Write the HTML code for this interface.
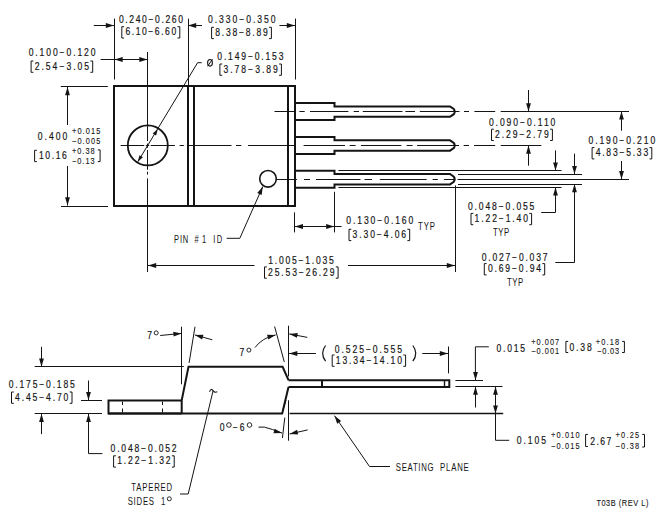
<!DOCTYPE html>
<html><head><meta charset="utf-8"><style>
html,body{margin:0;padding:0;background:#fff;width:663px;height:523px;overflow:hidden}
svg{display:block}
text{font-family:"Liberation Sans",sans-serif;fill:#141414;stroke:#141414;stroke-width:0.18px}
</style></head><body>
<svg width="663" height="523" viewBox="0 0 663 523">
<g stroke="#141414" stroke-linecap="butt" fill="none">
<path d="M114,86 H295 V206 H114 Z" stroke-width="2.0" fill="none" />
<line x1="188" y1="86" x2="188" y2="206" stroke-width="2.0" />
<line x1="194" y1="86" x2="194" y2="206" stroke-width="2.0" />
<line x1="288" y1="86" x2="288" y2="206" stroke-width="2.0" />
<line x1="114.5" y1="18.6" x2="114.5" y2="79.5" stroke-width="1.0" />
<line x1="188.5" y1="18.6" x2="188.5" y2="86" stroke-width="1.0" />
<line x1="295.5" y1="18.6" x2="295.5" y2="79.5" stroke-width="1.0" />
<line x1="93.8" y1="25.5" x2="114" y2="25.5" stroke-width="1.0" />
<path d="M114.00,25.50 L105.80,23.10 L105.80,27.90 Z" fill="#141414" stroke="none"/>
<line x1="202" y1="25.5" x2="188" y2="25.5" stroke-width="1.0" />
<path d="M188.00,25.50 L196.20,27.90 L196.20,23.10 Z" fill="#141414" stroke="none"/>
<line x1="279.4" y1="25.5" x2="295" y2="25.5" stroke-width="1.0" />
<path d="M295.00,25.50 L286.80,23.10 L286.80,27.90 Z" fill="#141414" stroke="none"/>
<text transform="scale(0.86,1)" x="138.37" y="23.0" font-size="10.0" textLength="74.42" lengthAdjust="spacing">0.240−0.260</text>
<path d="M124.10,26.70 H121.80 V38.00 H124.10" stroke-width="1.0" fill="none" />
<path d="M177.50,26.70 H179.80 V38.00 H177.50" stroke-width="1.0" fill="none" />
<text transform="scale(0.86,1)" x="145.81" y="35.4" font-size="10.0" textLength="59.07" lengthAdjust="spacing">6.10−6.60</text>
<text transform="scale(0.86,1)" x="241.86" y="23.0" font-size="10.0" textLength="78.49" lengthAdjust="spacing">0.330−0.350</text>
<path d="M213.90,27.30 H211.60 V38.60 H213.90" stroke-width="1.0" fill="none" />
<path d="M269.10,27.30 H271.40 V38.60 H269.10" stroke-width="1.0" fill="none" />
<text transform="scale(0.86,1)" x="250.23" y="36.0" font-size="10.0" textLength="61.16" lengthAdjust="spacing">8.38−8.89</text>
<line x1="100.6" y1="59.5" x2="147.5" y2="59.5" stroke-width="1.0" />
<path d="M114.50,59.50 L122.70,61.90 L122.70,57.10 Z" fill="#141414" stroke="none"/>
<path d="M147.50,59.50 L139.30,57.10 L139.30,61.90 Z" fill="#141414" stroke="none"/>
<text transform="scale(0.86,1)" x="33.37" y="56.300000000000004" font-size="10.0" textLength="77.67" lengthAdjust="spacing">0.100−0.120</text>
<path d="M33.40,61.00 H31.10 V72.30 H33.40" stroke-width="1.0" fill="none" />
<path d="M90.40,61.00 H92.70 V72.30 H90.40" stroke-width="1.0" fill="none" />
<text transform="scale(0.86,1)" x="40.35" y="69.69999999999999" font-size="10.0" textLength="63.26" lengthAdjust="spacing">2.54−3.05</text>
<line x1="147.5" y1="52" x2="147.5" y2="141" stroke-width="1.0" />
<line x1="147.5" y1="143.6" x2="147.5" y2="147.8" stroke-width="1.0" />
<line x1="147.5" y1="150" x2="147.5" y2="169.8" stroke-width="1.0" />
<line x1="147.5" y1="171.7" x2="147.5" y2="174.6" stroke-width="1.0" />
<line x1="147.5" y1="178.4" x2="147.5" y2="272" stroke-width="1.0" />
<line x1="60.8" y1="86.5" x2="107.8" y2="86.5" stroke-width="1.0" />
<line x1="61" y1="206.5" x2="108" y2="206.5" stroke-width="1.0" />
<line x1="67.5" y1="125" x2="67.5" y2="87" stroke-width="1.0" />
<path d="M67.50,87.00 L65.10,95.20 L69.90,95.20 Z" fill="#141414" stroke="none"/>
<line x1="67.5" y1="166" x2="67.5" y2="205.5" stroke-width="1.0" />
<path d="M67.50,205.50 L69.90,197.30 L65.10,197.30 Z" fill="#141414" stroke="none"/>
<text transform="scale(0.86,1)" x="43.95" y="140.2" font-size="10.0" textLength="34.30" lengthAdjust="spacing">0.400</text>
<text transform="scale(0.86,1)" x="83.72" y="133.6" font-size="8.6" textLength="32.91" lengthAdjust="spacing" style="stroke-width:0.1px">+0.015</text>
<text transform="scale(0.86,1)" x="83.72" y="144.2" font-size="8.6" textLength="32.91" lengthAdjust="spacing" style="stroke-width:0.1px">−0.005</text>
<path d="M36.90,150.30 H34.60 V161.60 H36.90" stroke-width="1.0" fill="none" />
<text transform="scale(0.86,1)" x="45.35" y="159.29999999999998" font-size="10.0" textLength="32.33" lengthAdjust="spacing">10.16</text>
<text transform="scale(0.86,1)" x="83.72" y="154.1" font-size="8.6" textLength="26.28" lengthAdjust="spacing" style="stroke-width:0.1px">+0.38</text>
<text transform="scale(0.86,1)" x="83.72" y="164.1" font-size="8.6" textLength="26.28" lengthAdjust="spacing" style="stroke-width:0.1px">−0.13</text>
<path d="M97.80,149.90 H100.10 V161.60 H97.80" stroke-width="1.0" fill="none" />
<circle cx="147.8" cy="145.4" r="20" stroke-width="1.8" fill="none"/>
<line x1="120.6" y1="145.5" x2="144.2" y2="145.5" stroke-width="1.0" />
<line x1="145.8" y1="145.5" x2="149.2" y2="145.5" stroke-width="1.0" />
<line x1="150.7" y1="145.5" x2="174.9" y2="145.5" stroke-width="1.0" />
<line x1="179.6" y1="145.5" x2="183.9" y2="145.5" stroke-width="1.0" />
<line x1="187.5" y1="145.5" x2="231.5" y2="145.5" stroke-width="1.0" />
<line x1="236" y1="145.5" x2="241.3" y2="145.5" stroke-width="1.0" />
<line x1="248" y1="145.5" x2="296" y2="145.5" stroke-width="1.0" />
<line x1="303.6" y1="145.5" x2="345" y2="145.5" stroke-width="1.0" />
<line x1="349.6" y1="145.5" x2="355.6" y2="145.5" stroke-width="1.0" />
<line x1="360.9" y1="145.5" x2="401.3" y2="145.5" stroke-width="1.0" />
<line x1="406.6" y1="145.5" x2="412.6" y2="145.5" stroke-width="1.0" />
<line x1="417.1" y1="145.5" x2="459" y2="145.5" stroke-width="1.0" />
<line x1="463.6" y1="145.5" x2="469" y2="145.5" stroke-width="1.0" />
<line x1="474" y1="145.5" x2="495.2" y2="145.5" stroke-width="1.0" />
<line x1="500.7" y1="145.5" x2="541.3" y2="145.5" stroke-width="1.0" />
<path d="M201.7,62.7 H197.6 L137.81,161.80" stroke-width="1.0" fill="none" />
<path d="M157.79,129.00 L152.70,133.51 L156.11,135.59 Z" fill="#141414" stroke="none"/>
<path d="M137.81,161.80 L142.90,157.29 L139.49,155.21 Z" fill="#141414" stroke="none"/>
<ellipse cx="210" cy="62.8" rx="2.4" ry="3.3" stroke-width="1.1" fill="none"/>
<line x1="207.6" y1="66.3" x2="212.5" y2="59.3" stroke-width="1.0" />
<text transform="scale(0.86,1)" x="252.67" y="60.300000000000004" font-size="10.0" textLength="76.98" lengthAdjust="spacing">0.149−0.153</text>
<path d="M222.20,64.00 H219.90 V75.30 H222.20" stroke-width="1.0" fill="none" />
<path d="M279.10,64.00 H281.40 V75.30 H279.10" stroke-width="1.0" fill="none" />
<text transform="scale(0.86,1)" x="259.88" y="72.69999999999999" font-size="10.0" textLength="63.14" lengthAdjust="spacing">3.78−3.89</text>
<path d="M295,103.1 H334.5 V106.39999999999999 H450 L453.8,109.0 Q455.6,111.6 453.8,114.19999999999999 L450,116.8 H334.5 V120.1 H295" stroke-width="2.0" fill="none" />
<path d="M295,137.0 H334.5 V140.3 H450 L453.8,142.9 Q455.6,145.5 453.8,148.1 L450,150.7 H334.5 V154.0 H295" stroke-width="2.0" fill="none" />
<path d="M295,170.7 H334.5 V174.0 H450 L453.8,176.6 Q455.6,179.2 453.8,181.79999999999998 L450,184.39999999999998 H334.5 V187.7 H295" stroke-width="2.0" fill="none" />
<line x1="274.5" y1="111.5" x2="295" y2="111.5" stroke-width="1.0" />
<line x1="299.4" y1="111.5" x2="304.7" y2="111.5" stroke-width="1.0" />
<line x1="310" y1="111.5" x2="348.4" y2="111.5" stroke-width="1.0" />
<line x1="353.7" y1="111.5" x2="359" y2="111.5" stroke-width="1.0" />
<line x1="362.8" y1="111.5" x2="402.4" y2="111.5" stroke-width="1.0" />
<line x1="405.4" y1="111.5" x2="415" y2="111.5" stroke-width="1.0" />
<line x1="419.8" y1="111.5" x2="459.5" y2="111.5" stroke-width="1.0" />
<line x1="464" y1="111.5" x2="469" y2="111.5" stroke-width="1.0" />
<line x1="474.4" y1="111.5" x2="495.2" y2="111.5" stroke-width="1.0" />
<line x1="500.7" y1="111.5" x2="629" y2="111.5" stroke-width="1.0" />
<line x1="276.5" y1="179.5" x2="297.1" y2="179.5" stroke-width="1.0" />
<line x1="304" y1="179.5" x2="310" y2="179.5" stroke-width="1.0" />
<line x1="316" y1="179.5" x2="360.5" y2="179.5" stroke-width="1.0" />
<line x1="364.5" y1="179.5" x2="372" y2="179.5" stroke-width="1.0" />
<line x1="379.8" y1="179.5" x2="426.6" y2="179.5" stroke-width="1.0" />
<line x1="432.6" y1="179.5" x2="437.9" y2="179.5" stroke-width="1.0" />
<line x1="443.9" y1="179.5" x2="455" y2="179.5" stroke-width="1.0" />
<line x1="457.5" y1="179.5" x2="629" y2="179.5" stroke-width="1.0" />
<circle cx="268" cy="178.8" r="8.3" stroke-width="1.6" fill="none"/>
<path d="M262.8,186.5 L239.8,238.3 H226.7" stroke-width="1.0" fill="none" />
<path d="M262.80,186.50 L257.28,193.02 L261.67,194.97 Z" fill="#141414" stroke="none"/>
<text transform="scale(0.74,1)" x="235.14" y="243.0" font-size="10.2" textLength="19.32" lengthAdjust="spacing" style="stroke-width:0.02px">PIN</text>
<text transform="scale(0.74,1)" x="262.84" y="243.0" font-size="10.2" textLength="15.95" lengthAdjust="spacing" style="stroke-width:0.02px">#1</text>
<text transform="scale(0.74,1)" x="288.11" y="243.0" font-size="10.2" textLength="12.03" lengthAdjust="spacing" style="stroke-width:0.02px">ID</text>
<line x1="294.5" y1="212.3" x2="294.5" y2="232.4" stroke-width="1.0" />
<line x1="334.5" y1="191.8" x2="334.5" y2="232.4" stroke-width="1.0" />
<line x1="294.8" y1="226.5" x2="341.6" y2="226.5" stroke-width="1.0" />
<path d="M294.80,226.50 L303.00,228.90 L303.00,224.10 Z" fill="#141414" stroke="none"/>
<path d="M334.30,226.50 L326.10,224.10 L326.10,228.90 Z" fill="#141414" stroke="none"/>
<text transform="scale(0.86,1)" x="402.67" y="224.2" font-size="10.0" textLength="77.91" lengthAdjust="spacing">0.130−0.160</text>
<text transform="scale(0.74,1)" x="565.00" y="230.5" font-size="10.5" textLength="22.84" lengthAdjust="spacing" style="stroke-width:0.02px">TYP</text>
<path d="M351.30,229.30 H349.00 V240.60 H351.30" stroke-width="1.0" fill="none" />
<path d="M407.40,229.30 H409.70 V240.60 H407.40" stroke-width="1.0" fill="none" />
<text transform="scale(0.86,1)" x="410.00" y="238.0" font-size="10.0" textLength="62.21" lengthAdjust="spacing">3.30−4.06</text>
<line x1="254.5" y1="265.5" x2="148" y2="265.5" stroke-width="1.0" />
<path d="M148.00,265.50 L156.20,267.90 L156.20,263.10 Z" fill="#141414" stroke="none"/>
<line x1="348" y1="265.5" x2="455" y2="265.5" stroke-width="1.0" />
<path d="M455.00,265.50 L446.80,263.10 L446.80,267.90 Z" fill="#141414" stroke="none"/>
<line x1="455.5" y1="185.4" x2="455.5" y2="272" stroke-width="1.0" />
<text transform="scale(0.86,1)" x="311.98" y="263.8" font-size="10.0" textLength="76.16" lengthAdjust="spacing">1.005−1.035</text>
<path d="M266.80,266.90 H264.50 V278.20 H266.80" stroke-width="1.0" fill="none" />
<path d="M335.80,266.90 H338.10 V278.20 H335.80" stroke-width="1.0" fill="none" />
<text transform="scale(0.86,1)" x="311.74" y="275.6" font-size="10.0" textLength="77.21" lengthAdjust="spacing">25.53−26.29</text>
<line x1="528.5" y1="90" x2="528.5" y2="111.4" stroke-width="1.0" />
<path d="M528.50,111.40 L530.90,103.20 L526.10,103.20 Z" fill="#141414" stroke="none"/>
<line x1="528.5" y1="165.7" x2="528.5" y2="145.5" stroke-width="1.0" />
<path d="M528.50,145.50 L526.10,153.70 L530.90,153.70 Z" fill="#141414" stroke="none"/>
<text transform="scale(0.86,1)" x="568.49" y="125.8" font-size="10.0" textLength="77.33" lengthAdjust="spacing">0.090−0.110</text>
<path d="M493.80,129.20 H491.50 V140.50 H493.80" stroke-width="1.0" fill="none" />
<path d="M550.10,129.20 H552.40 V140.50 H550.10" stroke-width="1.0" fill="none" />
<text transform="scale(0.86,1)" x="575.70" y="137.89999999999998" font-size="10.0" textLength="62.44" lengthAdjust="spacing">2.29−2.79</text>
<line x1="621.5" y1="130.7" x2="621.5" y2="111.4" stroke-width="1.0" />
<path d="M621.50,111.40 L619.10,119.60 L623.90,119.60 Z" fill="#141414" stroke="none"/>
<line x1="621.5" y1="161" x2="621.5" y2="179.2" stroke-width="1.0" />
<path d="M621.50,179.20 L623.90,171.00 L619.10,171.00 Z" fill="#141414" stroke="none"/>
<text transform="scale(0.86,1)" x="684.30" y="143.6" font-size="10.0" textLength="77.56" lengthAdjust="spacing">0.190−0.210</text>
<path d="M594.40,147.60 H592.10 V158.90 H594.40" stroke-width="1.0" fill="none" />
<path d="M649.50,147.60 H651.80 V158.90 H649.50" stroke-width="1.0" fill="none" />
<text transform="scale(0.86,1)" x="692.67" y="156.29999999999998" font-size="10.0" textLength="61.05" lengthAdjust="spacing">4.83−5.33</text>
<line x1="338.4" y1="170.5" x2="561.5" y2="170.5" stroke-width="1.0" />
<line x1="338.4" y1="187.5" x2="561.5" y2="187.5" stroke-width="1.0" />
<line x1="458" y1="174.5" x2="582" y2="174.5" stroke-width="1.0" />
<line x1="458" y1="184.5" x2="582" y2="184.5" stroke-width="1.0" />
<line x1="555.5" y1="150.4" x2="555.5" y2="170.6" stroke-width="1.0" />
<path d="M555.50,170.60 L557.90,162.40 L553.10,162.40 Z" fill="#141414" stroke="none"/>
<path d="M541.2,212.5 H555.5 V195" stroke-width="1.0" fill="none" />
<line x1="555.5" y1="196" x2="555.5" y2="187.3" stroke-width="1.0" />
<path d="M555.50,187.30 L553.10,195.50 L557.90,195.50 Z" fill="#141414" stroke="none"/>
<line x1="574.5" y1="153.6" x2="574.5" y2="174.1" stroke-width="1.0" />
<path d="M574.50,174.10 L576.90,165.90 L572.10,165.90 Z" fill="#141414" stroke="none"/>
<path d="M555.3,262.5 H574.5 V192" stroke-width="1.0" fill="none" />
<line x1="574.5" y1="193" x2="574.5" y2="184" stroke-width="1.0" />
<path d="M574.50,184.00 L572.10,192.20 L576.90,192.20 Z" fill="#141414" stroke="none"/>
<text transform="scale(0.86,1)" x="544.19" y="210.1" font-size="10.0" textLength="77.21" lengthAdjust="spacing">0.048−0.055</text>
<path d="M473.30,213.40 H471.00 V224.70 H473.30" stroke-width="1.0" fill="none" />
<path d="M529.30,213.40 H531.60 V224.70 H529.30" stroke-width="1.0" fill="none" />
<text transform="scale(0.86,1)" x="551.86" y="222.1" font-size="10.0" textLength="62.09" lengthAdjust="spacing">1.22−1.40</text>
<text transform="scale(0.74,1)" x="666.22" y="236.3" font-size="10.5" textLength="22.03" lengthAdjust="spacing" style="stroke-width:0.02px">TYP</text>
<text transform="scale(0.86,1)" x="560.12" y="260.90000000000003" font-size="10.0" textLength="76.51" lengthAdjust="spacing">0.027−0.037</text>
<path d="M486.60,263.60 H484.30 V274.90 H486.60" stroke-width="1.0" fill="none" />
<path d="M542.40,263.60 H544.70 V274.90 H542.40" stroke-width="1.0" fill="none" />
<text transform="scale(0.86,1)" x="567.33" y="272.30000000000007" font-size="10.0" textLength="61.86" lengthAdjust="spacing">0.69−0.94</text>
<text transform="scale(0.74,1)" x="685.14" y="285.6" font-size="10.5" textLength="22.03" lengthAdjust="spacing" style="stroke-width:0.02px">TYP</text>
<path d="M181.7,400.4 H108.5 V413.5 H181.7" stroke-width="2.0" fill="none" />
<line x1="122.5" y1="401.5" x2="122.5" y2="405" stroke-width="1.0" />
<line x1="122.5" y1="408.5" x2="122.5" y2="412.5" stroke-width="1.0" />
<line x1="162.5" y1="401.5" x2="162.5" y2="405" stroke-width="1.0" />
<line x1="162.5" y1="408.5" x2="162.5" y2="412.5" stroke-width="1.0" />
<path d="M181.7,413.5 V400.4 L188.5,366.8 H282.6 L288.5,380.2 M288.5,386.9 L282.2,413.5 H108.5" stroke-width="2.0" fill="none" />
<path d="M288.5,380.2 H449.3 V386.9 H288.5" stroke-width="2.0" fill="none" />
<line x1="322" y1="380.2" x2="322" y2="386.9" stroke-width="2.0" />
<line x1="444.5" y1="380.2" x2="444.5" y2="386.9" stroke-width="1.4" />
<line x1="289.6" y1="413.5" x2="503.2" y2="413.5" stroke-width="1.4" />
<line x1="34.7" y1="366.5" x2="183.8" y2="366.5" stroke-width="1.0" />
<line x1="34.7" y1="413.5" x2="102" y2="413.5" stroke-width="1.0" />
<line x1="81" y1="400.5" x2="102" y2="400.5" stroke-width="1.0" />
<line x1="41.5" y1="346.8" x2="41.5" y2="366.8" stroke-width="1.0" />
<path d="M41.50,366.80 L43.90,358.60 L39.10,358.60 Z" fill="#141414" stroke="none"/>
<line x1="41.5" y1="434.1" x2="41.5" y2="413.7" stroke-width="1.0" />
<path d="M41.50,413.70 L39.10,421.90 L43.90,421.90 Z" fill="#141414" stroke="none"/>
<line x1="88.5" y1="380.5" x2="88.5" y2="400.3" stroke-width="1.0" />
<path d="M88.50,400.30 L90.90,392.10 L86.10,392.10 Z" fill="#141414" stroke="none"/>
<path d="M102.4,453.6 H88.5 V420" stroke-width="1.0" fill="none" />
<line x1="88.5" y1="422" x2="88.5" y2="413.7" stroke-width="1.0" />
<path d="M88.50,413.70 L86.10,421.90 L90.90,421.90 Z" fill="#141414" stroke="none"/>
<text transform="scale(0.86,1)" x="10.23" y="388.40000000000003" font-size="10.0" textLength="76.74" lengthAdjust="spacing">0.175−0.185</text>
<path d="M13.80,392.00 H11.50 V403.30 H13.80" stroke-width="1.0" fill="none" />
<path d="M69.70,392.00 H72.00 V403.30 H69.70" stroke-width="1.0" fill="none" />
<text transform="scale(0.86,1)" x="17.56" y="400.70000000000005" font-size="10.0" textLength="61.98" lengthAdjust="spacing">4.45−4.70</text>
<text transform="scale(0.86,1)" x="128.60" y="451.6" font-size="10.0" textLength="76.74" lengthAdjust="spacing">0.048−0.052</text>
<path d="M115.90,455.80 H113.60 V467.10 H115.90" stroke-width="1.0" fill="none" />
<path d="M171.90,455.80 H174.20 V467.10 H171.90" stroke-width="1.0" fill="none" />
<text transform="scale(0.86,1)" x="136.28" y="464.50000000000006" font-size="10.0" textLength="62.09" lengthAdjust="spacing">1.22−1.32</text>
<text transform="scale(0.74,1)" x="177.43" y="491.0" font-size="10.5" textLength="55.14" lengthAdjust="spacing" style="stroke-width:0.02px">TAPERED</text>
<text transform="scale(0.74,1)" x="172.57" y="505.0" font-size="10.5" textLength="35.54" lengthAdjust="spacing" style="stroke-width:0.02px">SIDES</text>
<text transform="scale(0.74,1)" x="217.57" y="505.0" font-size="10.5" textLength="4.86" lengthAdjust="spacing" style="stroke-width:0.02px">1</text>
<circle cx="169.3" cy="498.8" r="2.0" stroke-width="0.9" fill="none"/>
<line x1="181.5" y1="326.7" x2="181.5" y2="384.3" stroke-width="1.0" />
<line x1="189.1" y1="362.9" x2="195" y2="326.7" stroke-width="1.0" />
<line x1="160.2" y1="335.5" x2="181.6" y2="333.4" stroke-width="1.0" />
<path d="M181.60,333.40 L173.20,331.81 L173.67,336.59 Z" fill="#141414" stroke="none"/>
<line x1="212.3" y1="339.8" x2="194.9" y2="334.9" stroke-width="1.0" />
<path d="M194.90,334.90 L202.14,339.43 L203.44,334.81 Z" fill="#141414" stroke="none"/>
<text transform="scale(0.86,1)" x="171.16" y="338.90000000000003" font-size="10.0" textLength="6.05" lengthAdjust="spacing">7</text>
<circle cx="156.2" cy="332.9" r="2.0" stroke-width="0.9" fill="none"/>
<line x1="274.6" y1="326.5" x2="284.3" y2="362" stroke-width="1.0" />
<line x1="288.5" y1="325.7" x2="288.5" y2="376.4" stroke-width="1.0" />
<line x1="288.5" y1="400.3" x2="288.5" y2="440.7" stroke-width="1.0" />
<path d="M255,347.5 Q262,338 275.6,334.9" stroke-width="1.0" fill="none" />
<path d="M275.60,334.90 L267.06,334.77 L268.34,339.40 Z" fill="#141414" stroke="none"/>
<line x1="307.3" y1="337.4" x2="289.3" y2="333.9" stroke-width="1.0" />
<path d="M289.30,333.90 L296.89,337.82 L297.81,333.11 Z" fill="#141414" stroke="none"/>
<text transform="scale(0.86,1)" x="278.49" y="356.20000000000005" font-size="10.0" textLength="6.28" lengthAdjust="spacing">7</text>
<circle cx="248.9" cy="350.1" r="2.0" stroke-width="0.9" fill="none"/>
<line x1="315.9" y1="353.5" x2="289.1" y2="353.5" stroke-width="1.0" />
<path d="M289.10,353.50 L297.30,355.90 L297.30,351.10 Z" fill="#141414" stroke="none"/>
<line x1="422.3" y1="353.5" x2="448" y2="353.5" stroke-width="1.0" />
<path d="M448.00,353.50 L439.80,351.10 L439.80,355.90 Z" fill="#141414" stroke="none"/>
<line x1="448.5" y1="346.5" x2="448.5" y2="373.4" stroke-width="1.0" />
<path d="M325.6,345.5 Q319.6,353.3 325.6,361.2" stroke-width="1.2" fill="none" />
<path d="M412.8,345.5 Q418.8,353.3 412.8,361.2" stroke-width="1.2" fill="none" />
<text transform="scale(0.86,1)" x="389.30" y="353.0" font-size="10.0" textLength="78.14" lengthAdjust="spacing">0.525−0.555</text>
<path d="M334.50,355.00 H332.20 V366.30 H334.50" stroke-width="1.0" fill="none" />
<path d="M403.30,355.00 H405.60 V366.30 H403.30" stroke-width="1.0" fill="none" />
<text transform="scale(0.86,1)" x="390.47" y="363.70000000000005" font-size="10.0" textLength="76.98" lengthAdjust="spacing">13.34−14.10</text>
<line x1="455.4" y1="380.5" x2="483" y2="380.5" stroke-width="1.0" />
<line x1="455.4" y1="386.5" x2="502.5" y2="386.5" stroke-width="1.0" />
<line x1="455.4" y1="413.5" x2="502.5" y2="413.5" stroke-width="1.0" />
<path d="M488.8,346.8 H475.4 V372" stroke-width="1.0" fill="none" />
<line x1="475.5" y1="372" x2="475.5" y2="380.2" stroke-width="1.0" />
<path d="M475.50,380.20 L477.90,372.00 L473.10,372.00 Z" fill="#141414" stroke="none"/>
<line x1="475.5" y1="407.5" x2="475.5" y2="386.6" stroke-width="1.0" />
<path d="M475.50,386.60 L473.10,394.80 L477.90,394.80 Z" fill="#141414" stroke="none"/>
<line x1="495.5" y1="386.6" x2="495.5" y2="413.6" stroke-width="1.0" />
<path d="M495.50,386.60 L493.10,394.80 L497.90,394.80 Z" fill="#141414" stroke="none"/>
<path d="M495.50,413.60 L497.90,405.40 L493.10,405.40 Z" fill="#141414" stroke="none"/>
<path d="M495.5,413.6 V440.3 H509.2" stroke-width="1.0" fill="none" />
<text transform="scale(0.86,1)" x="577.33" y="351.70000000000005" font-size="10.0" textLength="33.14" lengthAdjust="spacing">0.015</text>
<text transform="scale(0.86,1)" x="617.67" y="345.20000000000005" font-size="8.6" textLength="32.56" lengthAdjust="spacing" style="stroke-width:0.1px">+0.007</text>
<text transform="scale(0.86,1)" x="617.67" y="354.3" font-size="8.6" textLength="32.56" lengthAdjust="spacing" style="stroke-width:0.1px">−0.001</text>
<path d="M568.20,341.40 H565.90 V352.50 H568.20" stroke-width="1.0" fill="none" />
<text transform="scale(0.86,1)" x="662.21" y="350.6" font-size="10.0" textLength="25.81" lengthAdjust="spacing">0.38</text>
<text transform="scale(0.86,1)" x="692.67" y="345.20000000000005" font-size="8.6" textLength="27.33" lengthAdjust="spacing" style="stroke-width:0.1px">+0.18</text>
<text transform="scale(0.86,1)" x="694.19" y="354.3" font-size="8.6" textLength="25.81" lengthAdjust="spacing" style="stroke-width:0.1px">−0.03</text>
<path d="M622.10,341.40 H624.40 V352.50 H622.10" stroke-width="1.0" fill="none" />
<text transform="scale(0.86,1)" x="600.81" y="444.40000000000003" font-size="10.0" textLength="34.07" lengthAdjust="spacing">0.105</text>
<text transform="scale(0.86,1)" x="640.70" y="438.3" font-size="8.6" textLength="33.26" lengthAdjust="spacing" style="stroke-width:0.1px">+0.010</text>
<text transform="scale(0.86,1)" x="640.70" y="448.70000000000005" font-size="8.6" textLength="33.26" lengthAdjust="spacing" style="stroke-width:0.1px">−0.015</text>
<path d="M587.90,434.40 H585.60 V446.50 H587.90" stroke-width="1.0" fill="none" />
<text transform="scale(0.86,1)" x="686.28" y="444.8" font-size="10.0" textLength="24.65" lengthAdjust="spacing">2.67</text>
<text transform="scale(0.86,1)" x="715.81" y="438.3" font-size="8.6" textLength="27.33" lengthAdjust="spacing" style="stroke-width:0.1px">+0.25</text>
<text transform="scale(0.86,1)" x="715.81" y="448.70000000000005" font-size="8.6" textLength="27.33" lengthAdjust="spacing" style="stroke-width:0.1px">−0.38</text>
<path d="M642.20,434.40 H644.50 V447.00 H642.20" stroke-width="1.0" fill="none" />
<line x1="282" y1="413.2" x2="286" y2="400" stroke-width="1.0" />
<line x1="284.8" y1="417.6" x2="282.4" y2="438" stroke-width="1.0" />
<path d="M258.5,427.1 H264.3 Q272,429 282,433.1" stroke-width="1.0" fill="none" />
<path d="M282.00,433.10 L274.68,428.70 L273.46,433.34 Z" fill="#141414" stroke="none"/>
<line x1="307.7" y1="429.9" x2="289.6" y2="434" stroke-width="1.0" />
<path d="M289.60,434.00 L298.13,434.53 L297.07,429.85 Z" fill="#141414" stroke="none"/>
<text transform="scale(0.86,1)" x="255.58" y="431.5" font-size="10.0" textLength="5.58" lengthAdjust="spacing">0</text>
<circle cx="228.9" cy="425" r="2.3" stroke-width="0.9" fill="none"/>
<text transform="scale(0.86,1)" x="270.70" y="431.5" font-size="10.0" textLength="6.16" lengthAdjust="spacing">−</text>
<text transform="scale(0.86,1)" x="278.84" y="431.5" font-size="10.0" textLength="5.58" lengthAdjust="spacing">6</text>
<circle cx="249.5" cy="425" r="2.3" stroke-width="0.9" fill="none"/>
<path d="M390,466.5 H369.5 L334.5,415.7" stroke-width="1.0" fill="none" />
<path d="M334.50,415.70 L337.18,423.81 L341.13,421.09 Z" fill="#141414" stroke="none"/>
<text transform="scale(0.74,1)" x="534.86" y="471.1" font-size="10.5" textLength="51.08" lengthAdjust="spacing" style="stroke-width:0.02px">SEATING</text>
<text transform="scale(0.74,1)" x="594.59" y="471.1" font-size="10.5" textLength="38.92" lengthAdjust="spacing" style="stroke-width:0.02px">PLANE</text>
<path d="M180,494 H188.2 L213,391" stroke-width="1.0" fill="none" />
<path d="M209.5,391.8 Q211,387.6 213,390.6 Q214.5,393 217.3,391.8" stroke-width="1.1" fill="none" />
<text transform="scale(0.86,1)" x="693.49" y="505.90000000000003" font-size="8.6" textLength="60.47" lengthAdjust="spacing" style="stroke-width:0.1px">T03B (REV L)</text>
</g></svg></body></html>
